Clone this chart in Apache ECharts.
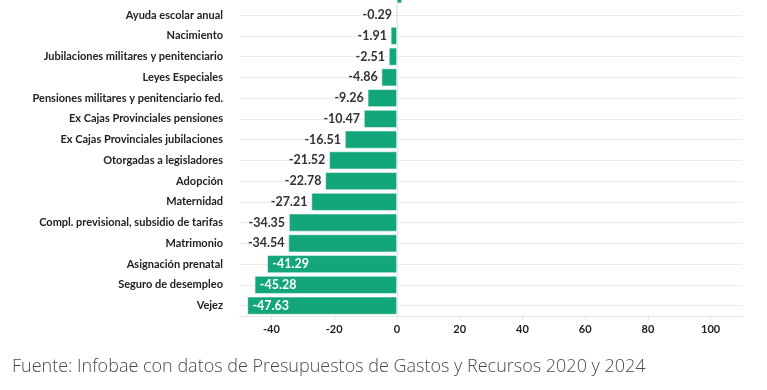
<!DOCTYPE html>
<html><head><meta charset="utf-8">
<script src="https://cdn.jsdelivr.net/npm/echarts@6/dist/echarts.min.js"></script>
<style>html,body{margin:0;padding:0;background:#fff;overflow:hidden}#c{position:absolute;left:0;top:-16px;width:767px;height:406px}</style>
</head><body><div id="c"></div>
<script>
const categories = ["", "Ayuda escolar anual", "Nacimiento", "Jubilaciones militares y penitenciario", "Leyes Especiales", "Pensiones militares y penitenciario fed.", "Ex Cajas Provinciales pensiones", "Ex Cajas Provinciales jubilaciones", "Otorgadas a legisladores", "Adopción", "Maternidad", "Compl. previsional, subsidio de tarifas", "Matrimonio", "Asignación prenatal", "Seguro de desempleo", "Vejez"];
const values = [1.6, -0.29, -1.91, -2.51, -4.86, -9.26, -10.47, -16.51, -21.52, -22.78, -27.21, -34.35, -34.54, -41.29, -45.28, -47.63];
const xTicks = [-40, -20, 0, 20, 40, 60, 80, 100];
const source = "Fuente: Infobae con datos de Presupuestos de Gastos y Recursos 2020 y 2024";

const chart = echarts.init(document.getElementById('c'));
const FONT = 'Lato';
const data = values.map(v => {
  const inside = v < -40;
  return {
    value: v,
    label: v > 0 ? {show: false}
         : inside ? {position: 'insideLeft', color: '#fff', distance: 5}
                  : {position: 'left', color: '#333', distance: 4}
  };
});
chart.setOption({
  animation: false,
  title: {
    text: source, left: 12, top: 374, padding: 0,
    textStyle: {fontFamily: 'Open Sans', fontWeight: 300, fontSize: 18, color: '#4a4a4a'}
  },
  grid: {left: 240, right: 25, top: 0, bottom: 74, containLabel: false},
  xAxis: {
    type: 'value', min: -50, max: 110,
    axisLine: {show: true, lineStyle: {color: '#e6e6e6', width: 1}},
    axisTick: {show: true, customValues: xTicks, length: 4, lineStyle: {color: '#e6e6e6'}},
    axisLabel: {customValues: xTicks, color: '#222', fontFamily: FONT, fontWeight: 'bold', fontSize: 11, margin: 8},
    splitLine: {show: false}
  },
  yAxis: {
    type: 'category', inverse: true, data: categories,
    axisLine: {show: true, lineStyle: {color: '#e6e6e6'}},
    axisTick: {show: true, alignWithLabel: true, length: 5, lineStyle: {color: '#e6e6e6'}},
    axisLabel: {color: '#222', fontFamily: FONT, fontWeight: 'bold', fontSize: 11, margin: 17},
    splitLine: {show: true, alignWithLabel: true, lineStyle: {color: '#ececec', width: 1}}
  },
  series: [{
    type: 'bar', data: data, barCategoryGap: '15%',
    itemStyle: {color: '#13a67a', borderColor: '#fff', borderWidth: 0.5},
    label: {show: true, fontFamily: FONT, fontWeight: 'bold', fontSize: 12.5,
      formatter: p => p.value.toFixed(2)}
  }]
});
</script></body></html>
